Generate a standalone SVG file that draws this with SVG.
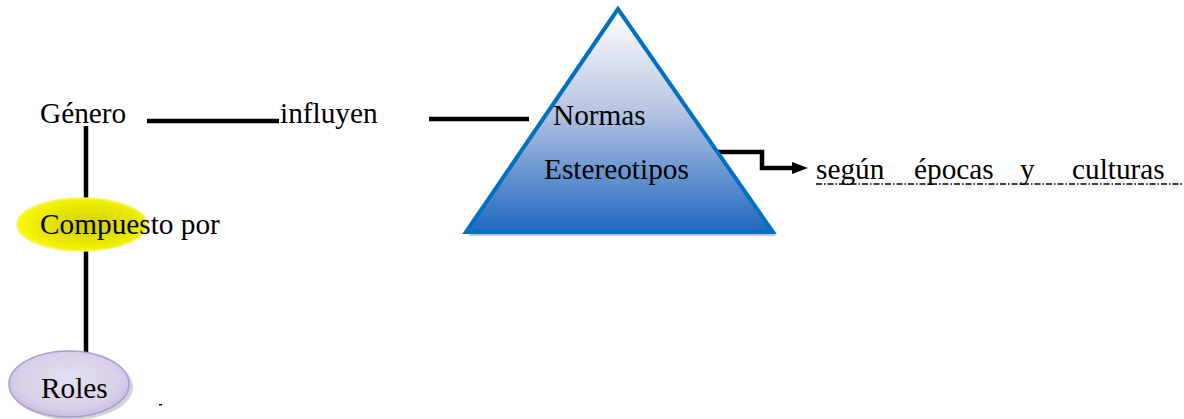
<svg xmlns="http://www.w3.org/2000/svg" width="1184" height="419" viewBox="0 0 1184 419">
<defs>
<linearGradient id="triFill" x1="0" y1="0" x2="0" y2="1">
<stop offset="0" stop-color="#ffffff"/>
<stop offset="0.45" stop-color="#b9c5e2"/>
<stop offset="1" stop-color="#1f68c0"/>
</linearGradient>
<radialGradient id="yellowFill" cx="0.55" cy="0.5" r="0.6">
<stop offset="0" stop-color="#d0d000"/>
<stop offset="0.6" stop-color="#e8e800"/>
<stop offset="1" stop-color="#ffff00"/>
</radialGradient>
<radialGradient id="lavFill" cx="0.5" cy="0.45" r="0.6">
<stop offset="0" stop-color="#e4dff0"/>
<stop offset="0.7" stop-color="#d8d1ea"/>
<stop offset="1" stop-color="#c0b5dc"/>
</radialGradient>
</defs>
<style>
text{font-family:"Liberation Serif","Times New Roman","DejaVu Serif",serif;font-size:29.3px;fill:#000}
.conn{stroke:#000;stroke-width:4.5;fill:none}
</style>
<rect width="1184" height="419" fill="#fff"/>

<g id="connectors">
<line class="conn" x1="147" y1="121" x2="279" y2="121"/>
<line class="conn" x1="429" y1="119" x2="529" y2="119"/>
<line class="conn" x1="86" y1="126" x2="86" y2="200"/>
<line class="conn" x1="86" y1="250" x2="86" y2="353"/>
<polyline class="conn" points="715,152 762,152 762,168 794,168"/>
<path d="M792,162 L808,168 L792,174 z" fill="#000"/>
</g>

<g id="node-genero">
<text x="40" y="123" font-family="Liberation Serif, serif">Género</text>
</g>

<g id="node-influyen">
<text x="280" y="123">influyen</text>
</g>

<g id="node-triangulo">
<polygon points="621,12 469,236 776,236" fill="#c0c6d2"/>
<polygon points="618,9 466,232 773,232" fill="url(#triFill)" stroke="#0070c0" stroke-width="4" stroke-linejoin="miter"/>
<text x="553" y="125">Normas</text>
<text x="544" y="179">Estereotipos</text>
</g>

<g id="node-segun">
<text y="179"><tspan x="816">según</tspan><tspan x="914">épocas</tspan><tspan x="1020">y</tspan><tspan x="1072">culturas</tspan></text>
<line x1="816" y1="184" x2="1183" y2="184" stroke="#000" stroke-width="1.3" stroke-dasharray="6,2,1.5,2"/>
</g>

<g id="node-compuesto">
<ellipse cx="82" cy="224.5" rx="65" ry="26.5" fill="url(#yellowFill)" stroke="#f4f47a" stroke-width="1.5"/>
<text x="40" y="234">Compuesto por</text>
</g>

<g id="node-roles">
<ellipse cx="72" cy="387" rx="61" ry="33" fill="#b8b8b8" opacity="0.6"/>
<ellipse cx="69" cy="384" rx="60" ry="33" fill="url(#lavFill)" stroke="#a99cce" stroke-width="1.5"/>
<text x="41" y="398">Roles</text>
</g>

<rect x="159" y="404" width="3" height="1.5" fill="#000"/>
</svg>
